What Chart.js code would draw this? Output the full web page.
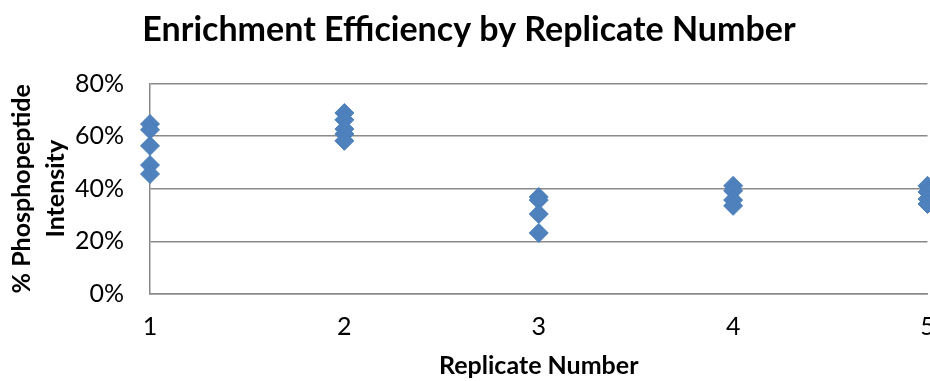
<!DOCTYPE html>
<html>
<head>
<meta charset="utf-8">
<script src="https://cdn.jsdelivr.net/npm/chart.js@4/dist/chart.umd.min.js"></script>
<style>
  html, body { margin: 0; padding: 0; background: #ffffff; overflow: hidden; }
  #wrap { width: 938px; height: 381px; }
</style>
</head>
<body>
<div id="wrap"><canvas id="chart" width="938" height="381"></canvas></div>
<script>
// Replicate numbers on the x axis
const replicates = [1, 2, 3, 4, 5];

// % phosphopeptide intensity measured for each replicate
const rep1 = [64.6, 62.4, 56.3, 49.0, 45.6];
const rep2 = [68.8, 66.2, 62.7, 60.8, 58.2];
const rep3 = [36.9, 35.7, 30.4, 23.2];
const rep4 = [41.1, 39.2, 35.7, 33.5];
const rep5 = [41.1, 38.8, 36.1, 34.2];

// Y axis tick values (percent)
const yTicks = [0, 20, 40, 60, 80];

const groups = [rep1, rep2, rep3, rep4, rep5];
const points = [];
groups.forEach((vals, i) => {
  vals.forEach(v => points.push({ x: replicates[i], y: v }));
});

const gridColor = '#8a8a8a';
const fontFamily = 'Lato, "Open Sans", sans-serif';

new Chart(document.getElementById('chart'), {
  type: 'scatter',
  data: {
    datasets: [{
      data: points,
      pointStyle: 'rectRot',
      pointRadius: 9.5,
      pointHoverRadius: 9.5,
      backgroundColor: '#4f81bd',
      borderColor: '#4a7ebb',
      borderWidth: 1,
      clip: false
    }]
  },
  options: {
    responsive: false,
    animation: false,
    events: [],
    layout: { padding: 0 },
    plugins: {
      legend: { display: false },
      tooltip: { enabled: false },
      title: {
        display: true,
        text: 'Enrichment Efficiency by Replicate Number',
        color: '#000000',
        font: { family: fontFamily, size: 34, weight: 'bold', lineHeight: 1.2 },
        padding: { top: 10, bottom: 32.7 }
      }
    },
    scales: {
      x: {
        type: 'linear',
        min: replicates[0],
        max: replicates[replicates.length - 1],
        // fixed axis band; the last label runs off the right edge
        afterFit: s => { s.height = 87; s.paddingLeft = 0; s.paddingRight = 8; },
        afterBuildTicks: s => { s.ticks = replicates.map(v => ({ value: v })); },
        grid: { display: false, drawTicks: false },
        border: { display: true, color: gridColor, width: 1.5 },
        ticks: {
          color: '#000000',
          padding: 18,
          font: { family: fontFamily, size: 25, lineHeight: 1.2 },
          callback: v => String(v)
        },
        title: {
          display: true,
          text: 'Replicate Number',
          color: '#000000',
          font: { family: fontFamily, size: 25, weight: 'bold', lineHeight: 1.0 },
          padding: { top: 0, bottom: 3 }
        }
      },
      y: {
        type: 'linear',
        min: yTicks[0],
        max: yTicks[yTicks.length - 1],
        afterFit: s => { s.width = 150; },
        afterBuildTicks: s => { s.ticks = yTicks.map(v => ({ value: v })); },
        grid: { color: gridColor, lineWidth: 1.5, drawTicks: false },
        border: { display: true, color: gridColor, width: 1.5 },
        ticks: {
          color: '#000000',
          padding: 26,
          font: { family: fontFamily, size: 25 },
          callback: v => v + '%'
        },
        title: {
          display: true,
          text: ['% Phosphopeptide', 'Intensity'],
          color: '#000000',
          font: { family: fontFamily, size: 25, weight: 'bold', lineHeight: 1.36 },
          padding: { top: 5, bottom: 0 }
        }
      }
    }
  }
});
</script>
</body>
</html>
